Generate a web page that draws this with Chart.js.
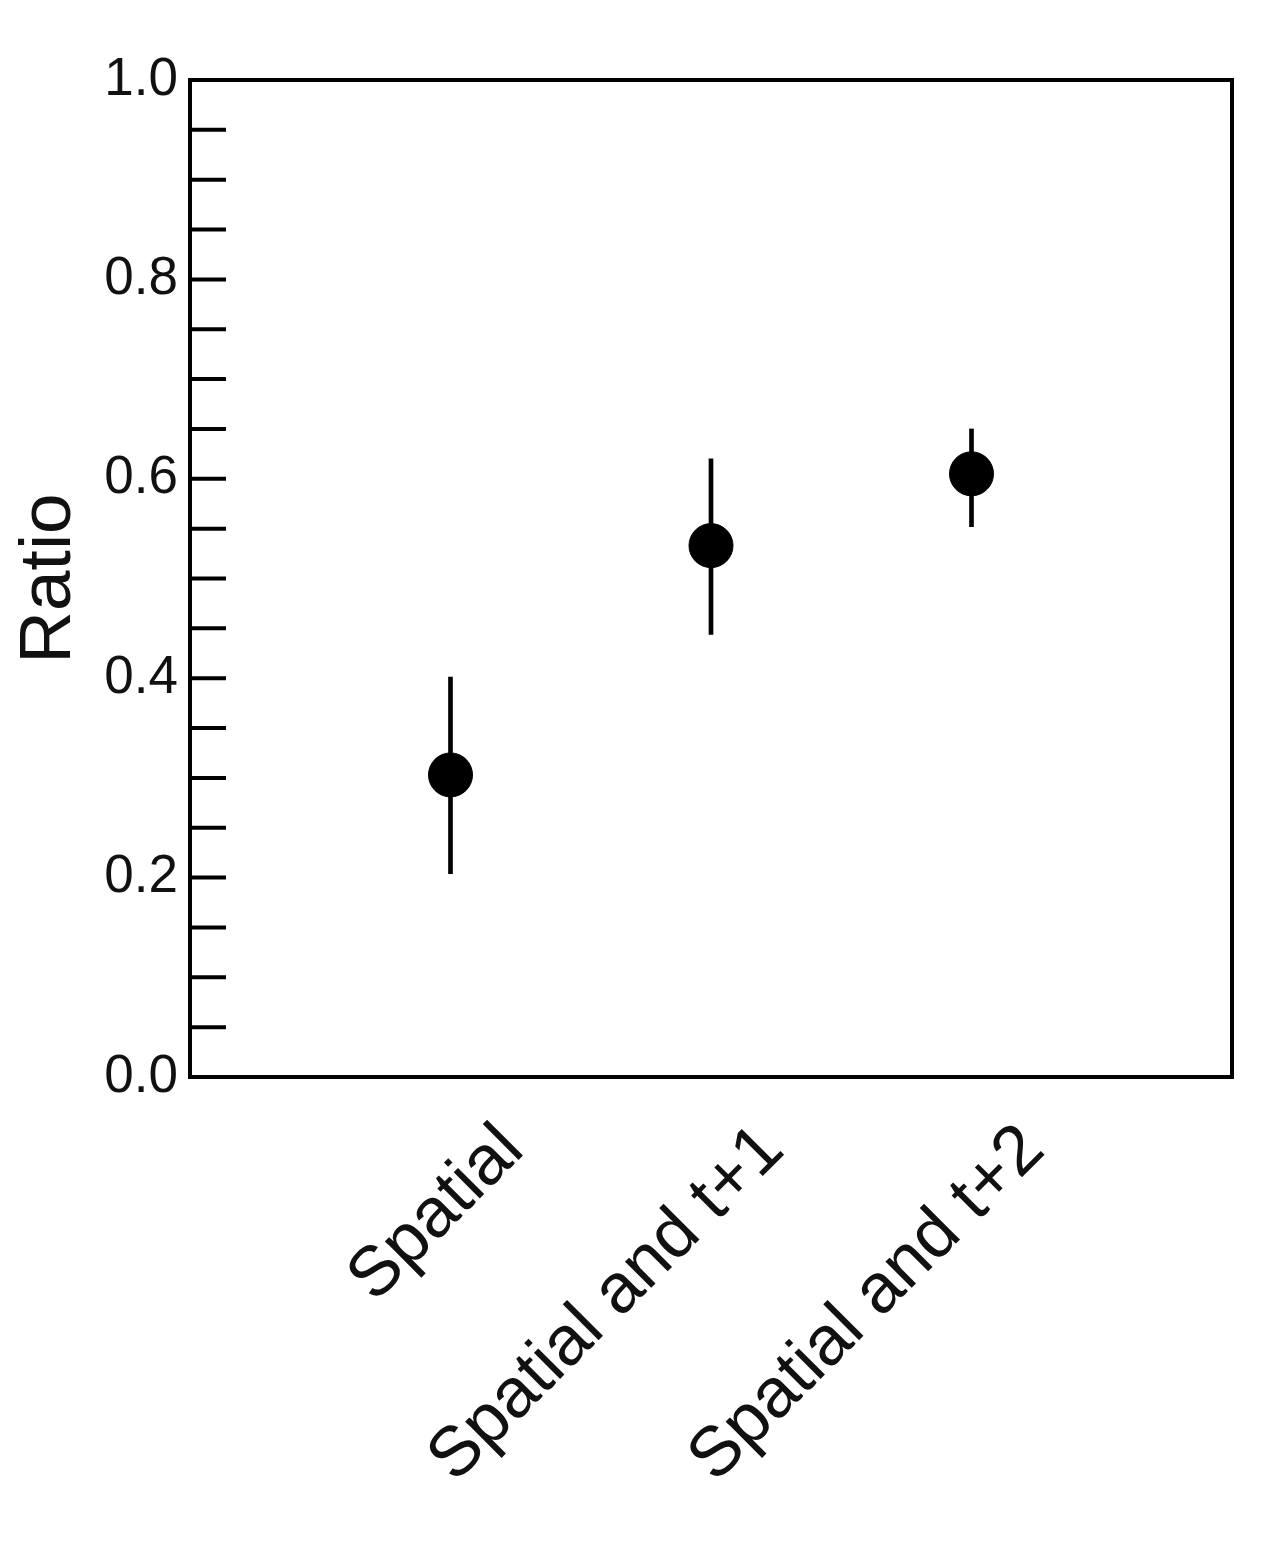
<!DOCTYPE html>
<html>
<head>
<meta charset="utf-8">
<script src="https://cdn.jsdelivr.net/npm/chart.js@4.4.1/dist/chart.umd.min.js"></script>
<style>
  html, body { margin: 0; padding: 0; background: #fff; }
  #wrap { width: 1269px; height: 1545px; position: relative; }
</style>
</head>
<body>
<div id="wrap"><canvas id="ratioChart"></canvas></div>
<script>
// data
const categories = ['Spatial', 'Spatial and t+1', 'Spatial and t+2'];
const categoryPos = [1, 2, 3];
const ratios = [0.303, 0.533, 0.605];
const errLow = [0.204, 0.444, 0.552];
const errHigh = [0.401, 0.620, 0.650];
const yMajorStep = 0.2;  // labelled ticks
const yMinorStep = 0.05; // every tick mark

const font = "'Liberation Sans', Arial, sans-serif";
const ink = '#111';

// box round the plot and the inner tick marks on the left axis
const framePlugin = {
    id: 'frame',
    afterDraw(chart) {
        const { ctx, chartArea: a } = chart;
        const y = chart.scales.y;
        ctx.save();
        ctx.strokeStyle = '#000';
        ctx.lineWidth = 4;
        y.ticks.forEach(t => {
            if (t.value <= 0 || t.value >= 1) return;
            const py = y.getPixelForValue(t.value);
            ctx.beginPath();
            ctx.moveTo(a.left, py);
            ctx.lineTo(a.left + 36, py);
            ctx.stroke();
        });
        ctx.strokeRect(a.left, a.top, a.right - a.left, a.bottom - a.top);
        ctx.restore();
    }
};

const ctx = document.getElementById('ratioChart').getContext('2d');
new Chart(ctx, {
    data: {
        datasets: [
            {
                // error bars as thin floating bars
                type: 'bar',
                data: categoryPos.map((x, i) => ({ x: x, y: [errLow[i], errHigh[i]] })),
                backgroundColor: '#000',
                barThickness: 4,
                borderWidth: 0
            },
            {
                type: 'scatter',
                data: categoryPos.map((x, i) => ({ x: x, y: ratios[i] })),
                backgroundColor: '#000',
                borderColor: '#000',
                pointRadius: 22,
                pointHoverRadius: 22
            }
        ]
    },
    options: {
        responsive: true,
        maintainAspectRatio: false,
        animation: false,
        layout: { padding: { left: 0, top: 80, right: 37, bottom: 0 } },
        plugins: { legend: { display: false }, tooltip: { enabled: false } },
        scales: {
            x: {
                type: 'linear',
                min: 0,
                max: 4,
                offset: false,
                grid: { display: false, drawTicks: false },
                border: { display: false },
                afterFit: s => { s.height = 468; s.paddingLeft = 0; s.paddingRight = 0; },
                ticks: {
                    stepSize: 1,
                    autoSkip: false,
                    maxRotation: 45,
                    minRotation: 45,
                    labelOffset: 62,
                    padding: 32,
                    color: ink,
                    font: { family: font, size: 70 },
                    callback: v => {
                        const i = categoryPos.indexOf(v);
                        return i >= 0 ? categories[i] : '';
                    }
                }
            },
            y: {
                min: 0,
                max: 1,
                grid: { display: false, drawTicks: false },
                border: { display: false },
                afterFit: s => { s.width = 190; s.paddingTop = 0; s.paddingBottom = 0; },
                title: {
                    display: true,
                    text: 'Ratio',
                    color: ink,
                    padding: { top: 6, bottom: 0 },
                    font: { family: font, size: 73 }
                },
                ticks: {
                    stepSize: yMinorStep,
                    autoSkip: false,
                    padding: 12,
                    color: ink,
                    font: { family: font, size: 53 },
                    callback: v => {
                        const k = Math.round(v / yMinorStep);
                        const per = Math.round(yMajorStep / yMinorStep);
                        return k % per === 0 ? v.toFixed(1) : '';
                    }
                }
            }
        }
    },
    plugins: [framePlugin]
});
</script>
</body>
</html>
